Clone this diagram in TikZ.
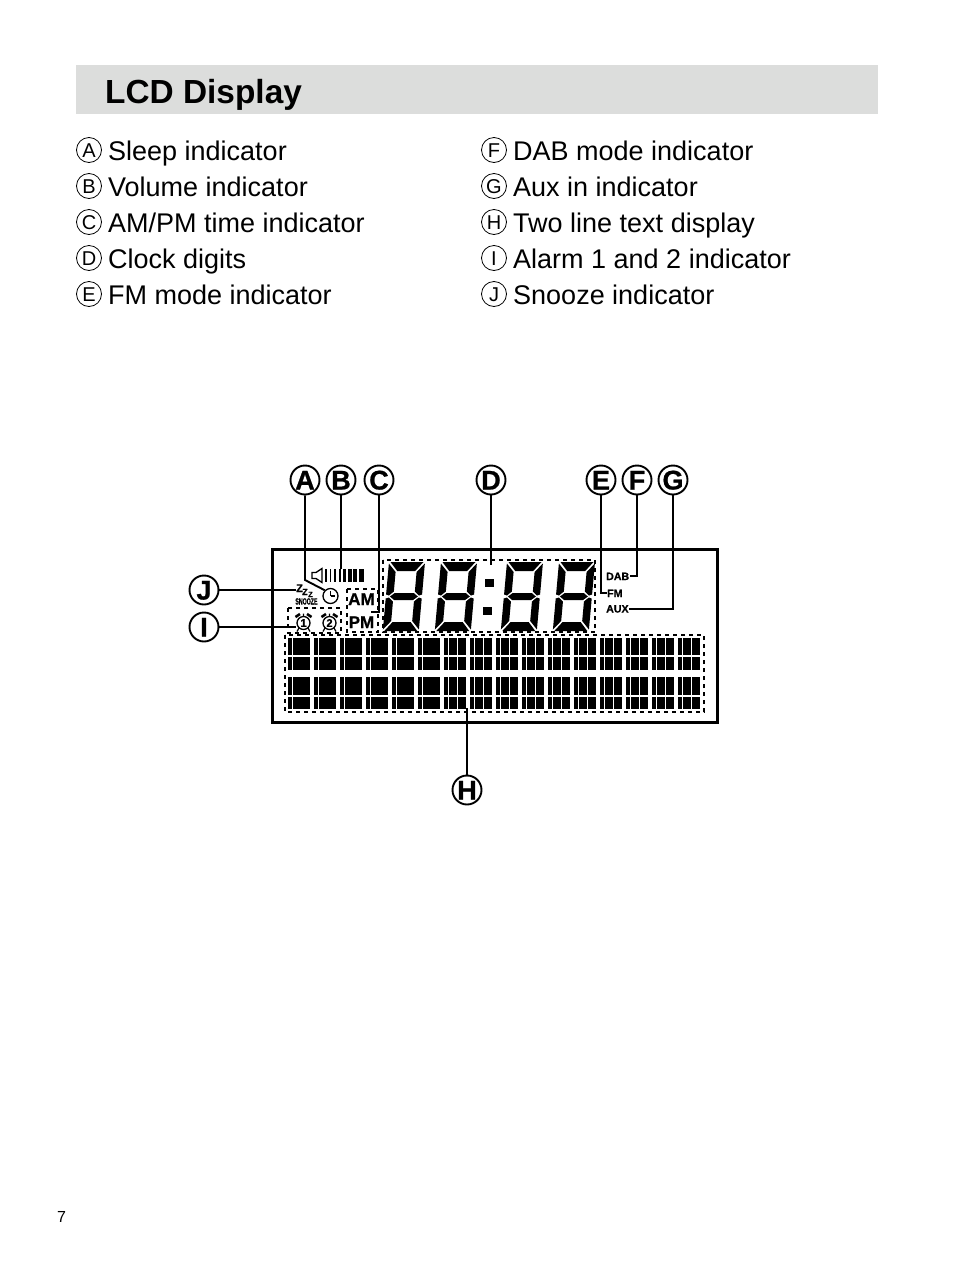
\documentclass[tikz,border=0pt]{standalone}
\usepackage{fontspec}
\setmainfont{Liberation Sans}
\usetikzlibrary{positioning}
\newcommand{\fsz}[1]{\fontsize{#1}{#1}\selectfont}
\newcommand{\heavy}{\bfseries\addfontfeature{FakeBold=0.8}}
\definecolor{headgrey}{HTML}{DCDDDC}
\tikzset{
    listlabel/.style={draw,circle,line width=0.8pt,inner sep=0pt,minimum size=25pt,text height=14.3pt,text depth=0pt,font=\fsz{20}},
    listtext/.style={anchor=base west,inner sep=0pt,font=\fsz{27}},
    callout/.style={draw,circle,fill=white,line width=1.9pt,inner sep=0pt,minimum size=29pt,text height=19pt,text depth=0pt,font=\fsz{27}\heavy},
    leader/.style={line width=1.9pt},
    dotbox/.style={line width=1.8pt,dash pattern=on 4pt off 4pt},
    icontext/.style={anchor=base west,inner sep=0.5pt,font=\fsz{#1}\heavy},
    lcddigit/.pic={
        \fill (1.5,0) -- (34.5,0) -- (27,9) -- (9,9) -- cycle;
        \fill (1.5,69) -- (34.5,69) -- (27,60) -- (9,60) -- cycle;
        \fill (4,34.5) -- (8.5,31) -- (27.5,31) -- (32,34.5) -- (27.5,38) -- (8.5,38) -- cycle;
        \fill (0,1.5) -- (7.5,10) -- (7.5,29.5) -- (3,33.5) -- (0,32.5) -- cycle;
        \fill (0,67.5) -- (7.5,59) -- (7.5,39.5) -- (3,35.5) -- (0,36.5) -- cycle;
        \fill (36,1.5) -- (28.5,10) -- (28.5,29.5) -- (33,33.5) -- (36,32.5) -- cycle;
        \fill (36,67.5) -- (28.5,59) -- (28.5,39.5) -- (33,35.5) -- (36,36.5) -- cycle;
    },
    alarmbell/.pic={
        \draw[line width=1.3pt] (0,0) circle (6.5);
        \draw[line width=2.6pt] (-8,-6) -- (-3.5,-9) (8,-6) -- (3.5,-9);
        \draw[line width=1.2pt] (-4.5,5) -- (-6.5,8.5) (4.5,5) -- (6.5,8.5) (0,-6.5) -- (0,-9.5);
    },
}
\begin{document}
\begin{tikzpicture}[x=1pt,y=-1pt]
    \useasboundingbox (0,0) rectangle (954,1272);
    %% Heading
    \node[fill=headgrey,anchor=north west,inner sep=0pt,minimum width=802pt,minimum height=49pt] (headbar) at (76,65) {};
    \node[anchor=base west,inner sep=0pt,font=\fsz{33.4}\bfseries] (headtext) at (105,103) {LCD Display};
    %% Item list
    \foreach \nm/\txt/\yy in {A/Sleep indicator/160,B/Volume indicator/196,C/{AM/PM time indicator}/232,D/Clock digits/268,E/FM mode indicator/304}{
        \node[listlabel] (list\nm) at (89,\yy-10) {\nm};
        \node[listtext] (item\nm) at (108,\yy) {\txt};
    }
    \foreach \nm/\txt/\yy in {F/DAB mode indicator/160,G/Aux in indicator/196,H/Two line text display/232,I/Alarm 1 and 2 indicator/268,J/Snooze indicator/304}{
        \node[listlabel] (list\nm) at (494,\yy-10) {\nm};
        \node[listtext] (item\nm) at (513,\yy) {\txt};
    }
    %% LCD frame
    \draw[line width=3pt] (272,549) rectangle (717,722);
    %% Clock digits
    \foreach \xx in {389,441,507,559}
        \pic[xslant=0.09] at (\xx,562) {lcddigit};
    \fill (484.5,578.5) rectangle (493.5,587);
    \fill (483,606.5) rectangle (491.5,615);
    %% Text blocks
    \foreach \row/\top/\bot/\mid in {0/638/670/656,1/677/709/696}{
        \foreach \i in {0,...,15}{
            \pgfmathsetmacro{\xa}{288+26*\i}
            \fill (\xa,\top) rectangle (\xa+22,\bot);
            \fill[white] (\xa,\mid-0.6) rectangle (\xa+22,\mid+0.6);
            \fill[white] (\xa+3.6,\top) rectangle (\xa+4.8,\bot);
            \ifnum\i>5
                \fill[white] (\xa+12.6,\top) rectangle (\xa+13.8,\bot);
            \fi
        }
    }
    %% Dotted outlines
    \draw[dotbox] (383,560) rectangle (595,632);
    \draw[dotbox] (285,635) rectangle (704,712);
    \draw[dotbox] (288,608) rectangle (341,633);
    \draw[dotbox] (347,589) rectangle (378,632);
    %% Speaker and volume bars
    \draw[line width=1.3pt] (312,572.5) -- (316,572.5) -- (322,568.5) -- (322,582.5) -- (316,578.5) -- (312,578.5) -- cycle;
    \foreach \xx/\wd in {325/1.5,329.5/1.7,334/2,338.5/2.4,343/3,348/3.6,353/4.2,358.5/5}
        \fill (\xx,569) rectangle (\xx+\wd,582);
    %% Sleep icon
    \node[draw,circle,line width=1.3pt,inner sep=0pt,minimum size=15pt] (sleepicon) at (330.5,596) {};
    \draw[line width=1.1pt] (sleepicon.center) -- ++(0,-5) (sleepicon.center) -- ++(4,0);
    %% Snooze icon
    \node[icontext=11] (zedone) at (295.5,592) {Z};
    \node[icontext=9] (zedtwo) at (301.5,595) {Z};
    \node[icontext=7.5] (zedthree) at (307.5,597) {Z};
    \node[icontext=9,xscale=0.58] (snoozetext) at (295,604.5) {SNOOZE};
    %% Alarm icons
    \pic at (303.5,623) {alarmbell};
    \pic at (329.5,623) {alarmbell};
    \node[inner sep=0pt,font=\fsz{11}\heavy] (alarmone) at (303.5,623) {1};
    \node[inner sep=0pt,font=\fsz{11}\heavy] (alarmtwo) at (329.5,623) {2};
    %% Indicator words
    \node[icontext=17] (amlabel) at (347.5,605) {AM};
    \node[icontext=17] (pmlabel) at (348,628) {PM};
    \node[icontext=10.6] (dablabel) at (605.5,580) {DAB};
    \node[icontext=10.6] (fmlabel) at (606.5,597) {FM};
    \node[icontext=10.6] (auxlabel) at (605.5,612.5) {AUX};
    %% Callouts
    \foreach \nm/\xx in {A/305,B/341,C/379,D/491,E/601,F/637,G/673}
        \node[callout] (call\nm) at (\xx,480) {\nm};
    \node[callout] (callJ) at (204,590) {J};
    \node[callout] (callI) at (204,627) {I};
    \node[callout] (callH) at (467,790) {H};
    %% Leader ends
    \coordinate (sleepbend) at (305,580);
    \coordinate (volend) at (341,569);
    \coordinate (ampmend) at (371,612);
    \coordinate (digitend) at (491,565);
    \coordinate (textend) at (467,708);
    \coordinate (snoozeend) at (296,590);
    \coordinate (alarmend) at (296,627);
    %% Leaders
    \draw[leader] (callA) -- (sleepbend) -- (sleepicon.north west);
    \draw[leader] (callB) -- (volend);
    \draw[leader] (callC) |- (ampmend);
    \draw[leader] (callD) -- (digitend);
    \draw[leader] (callE) |- (fmlabel.west);
    \draw[leader] (callF) |- (dablabel.east);
    \draw[leader] (callG) |- (auxlabel.east);
    \draw[leader] (callH) -- (textend);
    \draw[leader] (callJ) -- (snoozeend);
    \draw[leader] (callI) -- (alarmend);
    %% Page number
    \node[inner sep=0pt,anchor=base west,font=\fsz{16}] (pagenum) at (57,1222) {7};
\end{tikzpicture}
\end{document}
